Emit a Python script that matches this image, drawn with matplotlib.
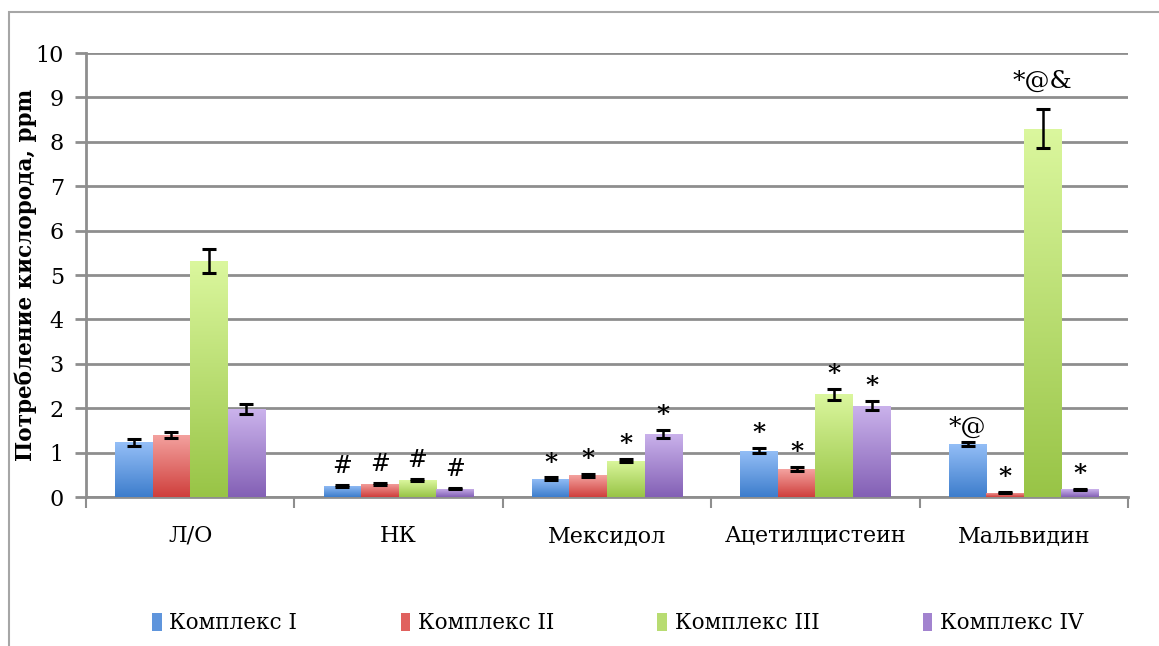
import numpy as np
import matplotlib
matplotlib.use("Agg")
import matplotlib.pyplot as plt
from matplotlib.colors import LinearSegmentedColormap
from matplotlib.patches import Rectangle, Patch

# ---- data -------------------------------------------------------------
categories = ["Л/О", "НК", "Мексидол", "Ацетилцистеин", "Мальвидин"]
series_names = ["Комплекс I", "Комплекс II", "Комплекс III", "Комплекс IV"]

complex_1 = [1.23, 0.25, 0.41, 1.04, 1.20]
complex_2 = [1.40, 0.30, 0.49, 0.63, 0.10]
complex_3 = [5.31, 0.38, 0.82, 2.31, 8.29]
complex_4 = [1.98, 0.19, 1.43, 2.06, 0.17]

err_1 = [0.08, 0.02, 0.03, 0.06, 0.05]
err_2 = [0.07, 0.02, 0.03, 0.04, 0.02]
err_3 = [0.27, 0.03, 0.04, 0.12, 0.44]
err_4 = [0.12, 0.02, 0.09, 0.11, 0.02]

marks_1 = ["", "#", "*", "*", "*@"]
marks_2 = ["", "#", "*", "*", "*"]
marks_3 = ["", "#", "*", "*", "*@&"]
marks_4 = ["", "#", "*", "*", "*"]

y_ticks = [0, 1, 2, 3, 4, 5, 6, 7, 8, 9, 10]
y_label = "Потребление кислорода, ppm"

values = [complex_1, complex_2, complex_3, complex_4]
errors = [err_1, err_2, err_3, err_4]
marks = [marks_1, marks_2, marks_3, marks_4]

# gradient colours per series: (top, bottom)
gradients = [
    ("#95bff7", "#3d7dcc"),
    ("#f4a3a0", "#cf3f3c"),
    ("#dbf79e", "#98c446"),
    ("#cbb3ec", "#8360b5"),
]
legend_colors = ["#5f95dc", "#e0615e", "#b8dc72", "#a283cf"]

FONT = "DejaVu Serif"
GRID = "#8e8e8e"

fig = plt.figure(figsize=(11.59, 6.46), dpi=100)
ax = fig.add_axes([86 / 1159, 1 - 497 / 646, (1128 - 86) / 1159, (497 - 53) / 646])

# outer frame of the chart area
fig.patches.append(Rectangle((9 / 1159, -0.05), 1.2, (646 - 12) / 646 + 0.05,
                             transform=fig.transFigure, fill=False,
                             edgecolor="#a6a6a6", linewidth=1.5, zorder=0))

n_series = len(values)
group_w = 0.72
bar_w = group_w / n_series
x = np.arange(len(categories))

ax.set_xlim(-0.5, len(categories) - 0.5)
ax.set_ylim(0, 10)

for i, (vals, errs, mk) in enumerate(zip(values, errors, marks)):
    pos = x - group_w / 2 + bar_w * (i + 0.5)
    bars = ax.bar(pos, vals, width=bar_w, color=legend_colors[i], zorder=3,
                  linewidth=0)
    cmap = LinearSegmentedColormap.from_list(f"g{i}", [gradients[i][1], gradients[i][0]])
    grad = np.linspace(0, 1, 256).reshape(-1, 1)
    for b in bars:
        x0, y0 = b.get_x(), b.get_y()
        w, h = b.get_width(), b.get_height()
        im = ax.imshow(grad, cmap=cmap, origin="lower", aspect="auto",
                       extent=(x0, x0 + w, y0, y0 + h), zorder=3.5,
                       interpolation="bilinear")
        im.set_clip_path(b)
    ax.errorbar(pos, vals, yerr=errs, fmt="none", ecolor="black",
                elinewidth=1.8, capsize=5, capthick=2.2, zorder=5)
    for p, v, e, m in zip(pos, vals, errs, mk):
        if not m:
            continue
        if m == "#":
            ax.annotate(m, xy=(p, v + e), xytext=(0, 5), textcoords="offset points",
                        ha="center", va="bottom", fontsize=17, family=FONT,
                        style="italic", zorder=6)
        else:
            off = 12 if len(m) == 3 else 2
            ax.annotate(m, xy=(p, v + e), xytext=(0, off), textcoords="offset points",
                        ha="center", va="bottom", fontsize=18, family=FONT,
                        fontweight="bold" if m == "*" else "normal", zorder=6)

# axes styling
ax.set_xlim(-0.5, len(categories) - 0.5)
ax.set_ylim(0, 10)
ax.set_yticks(y_ticks)
ax.set_yticklabels([str(t) for t in y_ticks], family=FONT, fontsize=16)
ax.yaxis.grid(True, color=GRID, linewidth=2, zorder=0)
ax.set_axisbelow(True)

ax.set_xticks(np.arange(len(categories) + 1) - 0.5)
ax.set_xticklabels([])
ax.set_xticks(x, minor=True)
ax.set_xticklabels(categories, minor=True, family=FONT, fontsize=16)
ax.tick_params(axis="x", which="minor", length=0, pad=20)
ax.tick_params(axis="x", which="major", length=8, width=1.5, color=GRID, direction="out")
ax.tick_params(axis="y", length=8, width=2, color=GRID, direction="out", pad=8)

for side in ("top", "right"):
    ax.spines[side].set_visible(False)
for side in ("left", "bottom"):
    ax.spines[side].set_color(GRID)
    ax.spines[side].set_linewidth(2)

ax.set_ylabel(y_label, family=FONT, fontsize=15.5, fontweight="bold", labelpad=-1)

handles = [Patch(facecolor=c, edgecolor="none") for c in legend_colors]
fig.legend(handles, series_names, loc="center", bbox_to_anchor=(0.533, 1 - 623 / 646),
           ncol=4, frameon=False, prop={"family": FONT, "size": 15.5},
           handlelength=0.45, handleheight=0.9, handletextpad=0.35, columnspacing=4.8)

fig.savefig("out.png", dpi=100)
